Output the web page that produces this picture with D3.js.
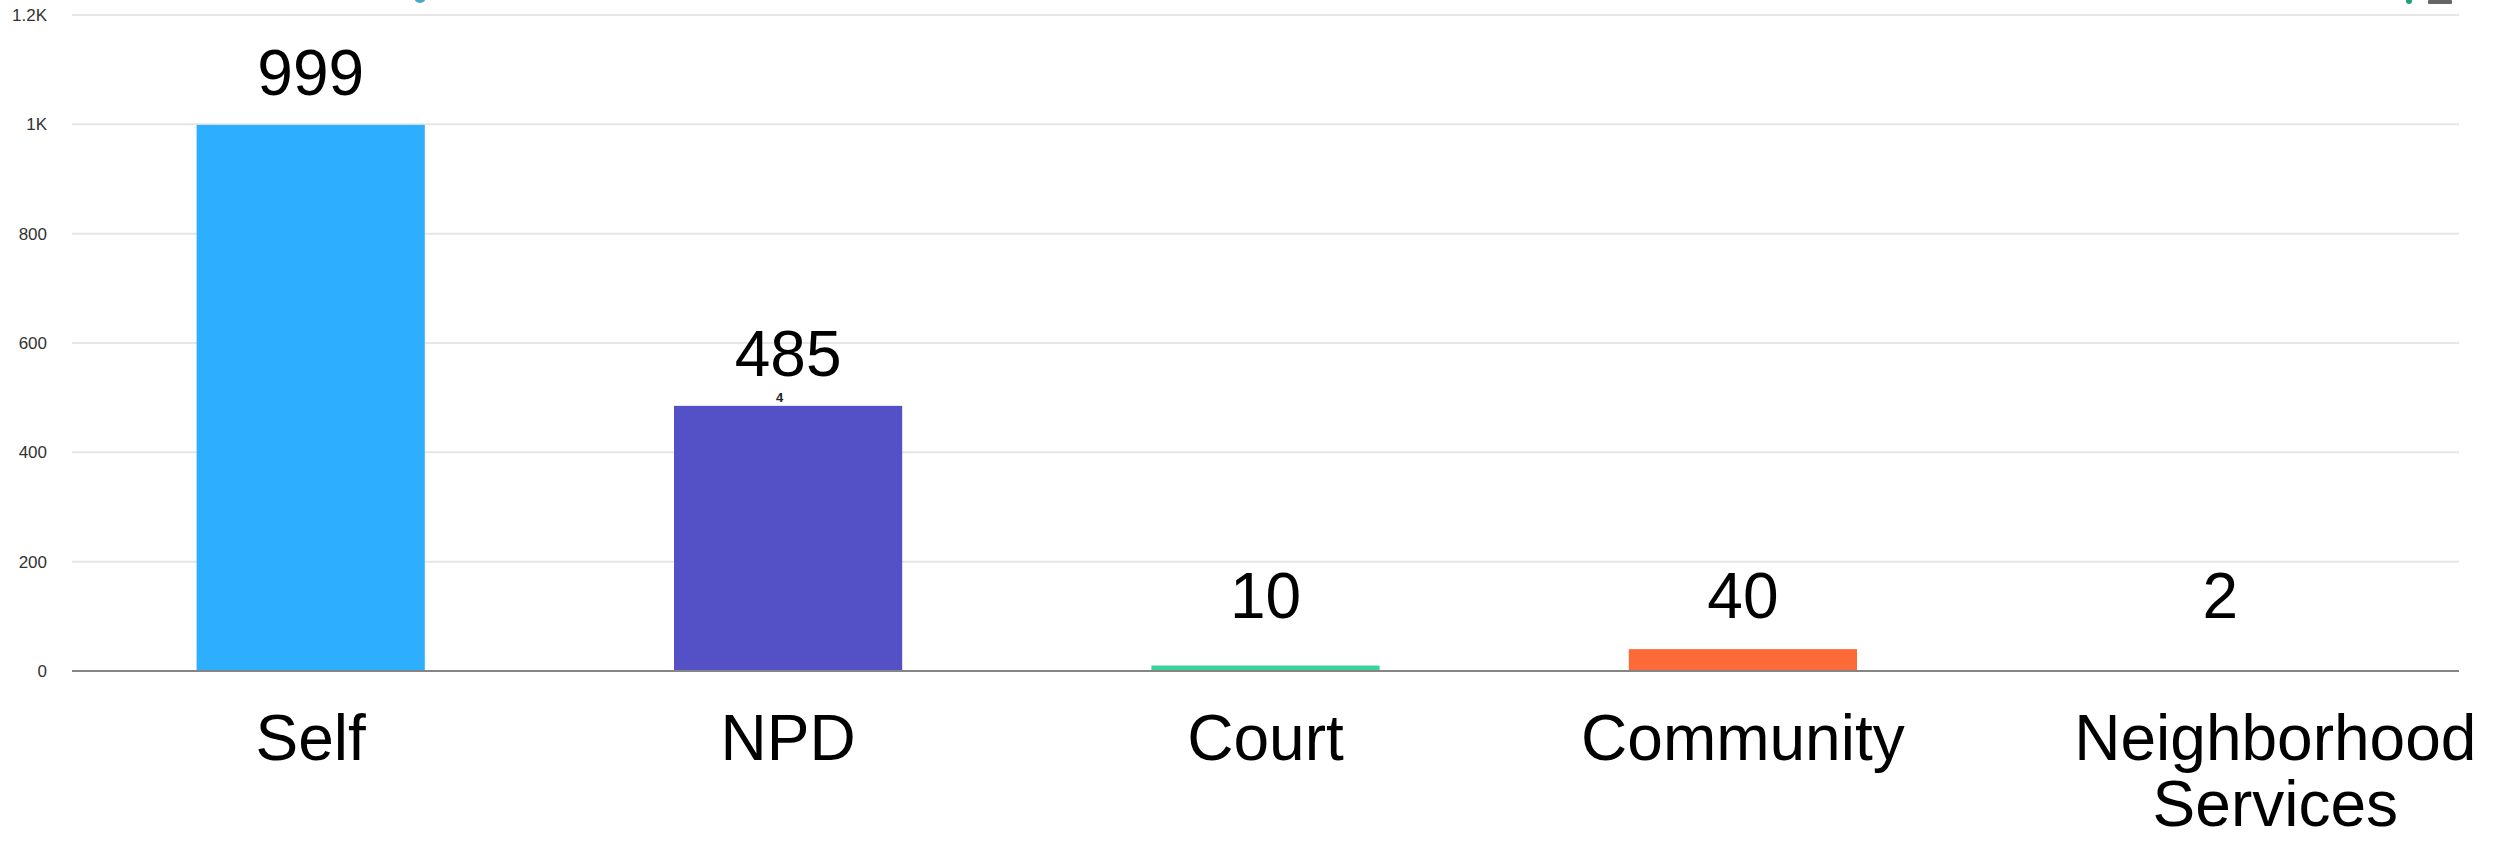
<!DOCTYPE html>
<html>
<head>
<meta charset="utf-8">
<script src="https://cdn.jsdelivr.net/npm/d3@7"></script>
<style>
  html, body { margin: 0; padding: 0; background: #ffffff; }
  svg { display: block; }
</style>
</head>
<body>
<svg id="chart" width="2499" height="841"></svg>
<script>
// ---- data ----
const categories = ["Self", "NPD", "Court", "Community", "Neighborhood Services"];
const values = [999, 485, 10, 40, 2];
const barColors = ["#2daefe", "#5450c6", "#38d49a", "#fb6a37", "#eeeeee"];
const tickValues = [0, 200, 400, 600, 800, 1000, 1200];
const tickLabels = ["0", "200", "400", "600", "800", "1K", "1.2K"];

// ---- layout ----
const W = 2499, H = 841;
const plotLeft = 72, plotRight = 2459, plotTop = 15, plotBottom = 671;
const svg = d3.select("#chart");

const x = d3.scaleBand()
  .domain(categories)
  .range([plotLeft, plotRight])
  .paddingInner(0.522)
  .paddingOuter(0.261);

const y = d3.scaleLinear()
  .domain([0, 1200])
  .range([plotBottom, plotTop]);

// gridlines
svg.append("g")
  .selectAll("line")
  .data(tickValues.filter(v => v !== 0))
  .join("line")
  .attr("x1", plotLeft).attr("x2", plotRight)
  .attr("y1", d => y(d)).attr("y2", d => y(d))
  .attr("stroke", "#e6e6e6")
  .attr("stroke-width", 2);

// y tick labels
svg.append("g")
  .selectAll("text")
  .data(tickValues)
  .join("text")
  .attr("x", 47)
  .attr("y", d => y(d))
  .attr("dy", "0.35em")
  .attr("text-anchor", "end")
  .attr("font-family", "Liberation Sans, Arial, sans-serif")
  .attr("font-size", 17)
  .attr("fill", "#333333")
  .text((d, i) => tickLabels[i]);

// bars
svg.append("g")
  .selectAll("rect")
  .data(categories)
  .join("rect")
  .attr("x", d => x(d))
  .attr("width", x.bandwidth())
  .attr("y", (d, i) => y(values[i]))
  .attr("height", (d, i) => y(0) - y(values[i]))
  .attr("fill", (d, i) => barColors[i]);

// zero axis line
svg.append("line")
  .attr("x1", plotLeft).attr("x2", plotRight)
  .attr("y1", y(0)).attr("y2", y(0))
  .attr("stroke", "#858585")
  .attr("stroke-width", 2);

// large value labels
const cx = d => x(d) + x.bandwidth() / 2;
svg.append("g")
  .selectAll("text")
  .data(categories)
  .join("text")
  .attr("x", d => cx(d))
  .attr("y", (d, i) => Math.min(y(values[i]) - 30, y(0) - 53))
  .attr("text-anchor", "middle")
  .attr("font-family", "Liberation Sans, Arial, sans-serif")
  .attr("font-size", 64)
  .attr("fill", "#000000")
  .text((d, i) => values[i]);

// small remnant label on NPD bar
svg.append("text")
  .attr("x", cx(categories[1]) - 12)
  .attr("y", y(values[1]) - 4)
  .attr("font-family", "Liberation Sans, Arial, sans-serif")
  .attr("font-size", 13)
  .attr("font-weight", "bold")
  .attr("fill", "#222222")
  .text(String(values[1]).charAt(0));

// category labels
const catG = svg.append("g");
categories.forEach((c, i) => {
  const words = c === "Neighborhood Services" ? ["Neighborhood", "Services"] : [c];
  const shift = c === "Neighborhood Services" ? 55 : 0;
  const t = catG.append("text")
    .attr("x", cx(c) + shift)
    .attr("y", 760)
    .attr("text-anchor", "middle")
    .attr("font-family", "Liberation Sans, Arial, sans-serif")
    .attr("font-size", 64)
    .attr("fill", "#000000");
  words.forEach((w, j) => {
    t.append("tspan")
      .attr("x", cx(c) + shift)
      .attr("dy", j === 0 ? 0 : 66)
      .text(w);
  });
});

// cropped icon remnants at the top
svg.append("circle").attr("cx", 420).attr("cy", -3).attr("r", 6).attr("fill", "#4aa8c8");
svg.append("circle").attr("cx", 2409).attr("cy", 1).attr("r", 3).attr("fill", "#1aa37a");
svg.append("rect").attr("x", 2428).attr("y", 0).attr("width", 24).attr("height", 4).attr("rx", 1).attr("fill", "#666666");
</script>
</body>
</html>
